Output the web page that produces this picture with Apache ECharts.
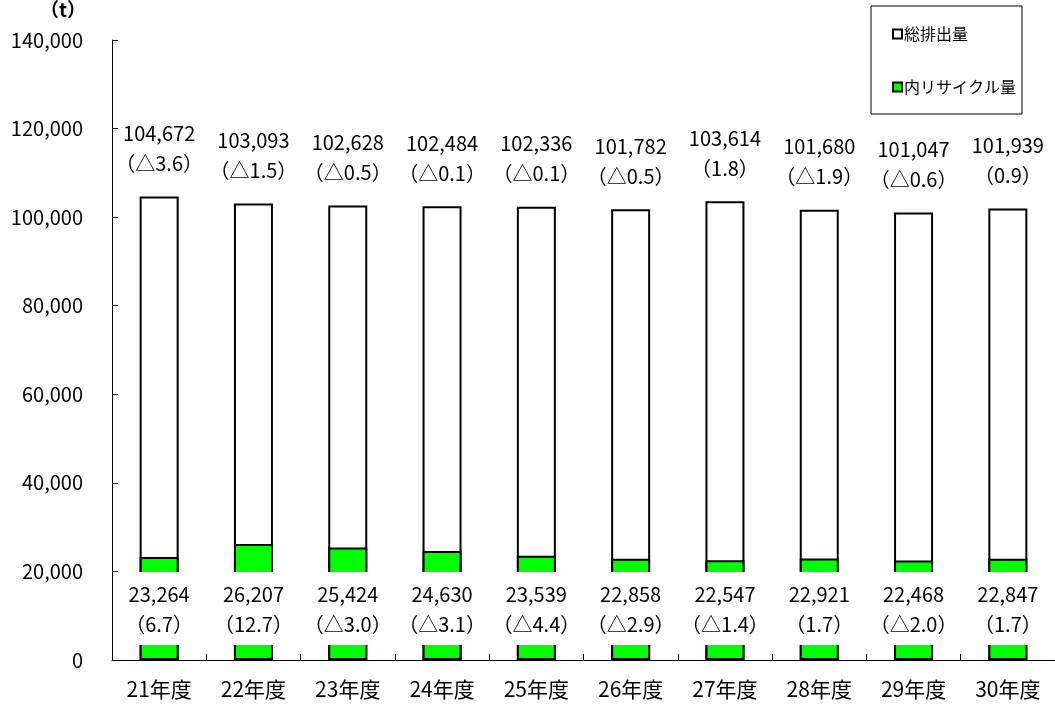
<!DOCTYPE html>
<html>
<head>
<meta charset="utf-8">
<script src="https://cdn.jsdelivr.net/npm/echarts@6/dist/echarts.min.js"></script>
<style>
  html, body { margin: 0; padding: 0; background: #fff; }
  #chart { width: 1055px; height: 704px; }
</style>
</head>
<body>
<div id="chart"></div>
<script>
// 年度別 総排出量と内リサイクル量 (t)、括弧内は前年度比 (%)
const years = ['21年度', '22年度', '23年度', '24年度', '25年度', '26年度', '27年度', '28年度', '29年度', '30年度'];
const totalEmission = [104672, 103093, 102628, 102484, 102336, 101782, 103614, 101680, 101047, 101939];
const totalChange = [-3.6, -1.5, -0.5, -0.1, -0.1, -0.5, 1.8, -1.9, -0.6, 0.9];
const recycled = [23264, 26207, 25424, 24630, 23539, 22858, 22547, 22921, 22468, 22847];
const recycledChange = [6.7, 12.7, -3.0, -3.1, -4.4, -2.9, -1.4, 1.7, -2.0, 1.7];
const yTicks = { min: 0, max: 140000, interval: 20000 };

const FONT = '"Noto Sans CJK JP", "Noto Sans", sans-serif';

function fmtChange(v) {
  const s = Math.abs(v).toFixed(1);
  return '（' + (v < 0 ? '△' + s : s) + '）';
}
function fmtValue(v) {
  return v.toLocaleString('en-US');
}

const chart = echarts.init(document.getElementById('chart'), null, { renderer: 'canvas' });

chart.setOption({
  backgroundColor: '#fff',
  animation: false,
  textStyle: { fontFamily: FONT, color: '#000' },
  grid: { left: 112, top: 40, width: 944, bottom: 44, containLabel: false },
  legend: {
    orient: 'vertical',
    left: 871,
    top: 6,
    padding: [20, 6, 19, 21],
    itemGap: 37,
    itemWidth: 9,
    itemHeight: 9,
    backgroundColor: '#fff',
    borderColor: '#000',
    borderWidth: 1,
    borderRadius: 0,
    textStyle: { fontSize: 16, color: '#000', fontFamily: FONT, padding: [0, 0, 0, -3] },
    data: [
      { name: '総排出量', icon: 'rect', itemStyle: { color: '#fff', borderColor: '#000', borderWidth: 2 } },
      { name: '内リサイクル量', icon: 'rect', itemStyle: { color: '#00ff00', borderColor: '#000', borderWidth: 2 } }
    ]
  },
  graphic: [{
    type: 'text',
    right: 1055 - 86,
    top: 0,
    style: { text: '（t）', font: 'bold 19px ' + FONT, fill: '#000' }
  }],
  xAxis: {
    type: 'category',
    data: years,
    axisLine: { lineStyle: { color: '#000', width: 1 } },
    axisTick: { show: true, inside: true, length: 6, lineStyle: { color: '#000' } },
    axisLabel: { fontSize: 21, color: '#000', margin: 19, fontFamily: FONT },
    splitLine: { show: false }
  },
  yAxis: {
    type: 'value',
    min: yTicks.min,
    max: yTicks.max,
    interval: yTicks.interval,
    axisLine: { show: true, lineStyle: { color: '#000', width: 1 } },
    axisTick: { show: true, inside: true, length: 6, lineStyle: { color: '#000' } },
    axisLabel: { fontSize: 20, color: '#000', margin: 29, fontFamily: FONT, formatter: v => fmtValue(v) },
    splitLine: { show: false }
  },
  series: [
    {
      name: '総排出量',
      type: 'bar',
      barWidth: 39,
      barGap: '-100%',
      data: totalEmission,
      itemStyle: { color: '#fff', borderColor: '#000', borderWidth: 2 },
      label: {
        show: true,
        position: 'top',
        distance: 18,
        fontSize: 20,
        lineHeight: 30,
        color: '#000',
        fontFamily: FONT,
        formatter: p => fmtValue(p.value) + '\n' + fmtChange(totalChange[p.dataIndex])
      }
    },
    {
      name: '内リサイクル量',
      type: 'bar',
      barWidth: 39,
      barGap: '-100%',
      data: recycled,
      itemStyle: { color: '#00ff00', borderColor: '#000', borderWidth: 2 },
      label: {
        show: true,
        position: 'insideBottom',
        distance: 15,
        fontSize: 20,
        lineHeight: 30,
        color: '#000',
        fontFamily: FONT,
        backgroundColor: '#fff',
        padding: [7, 4, 6, 4],
        formatter: p => fmtValue(p.value) + '\n' + fmtChange(recycledChange[p.dataIndex])
      }
    }
  ]
});
</script>
</body>
</html>
